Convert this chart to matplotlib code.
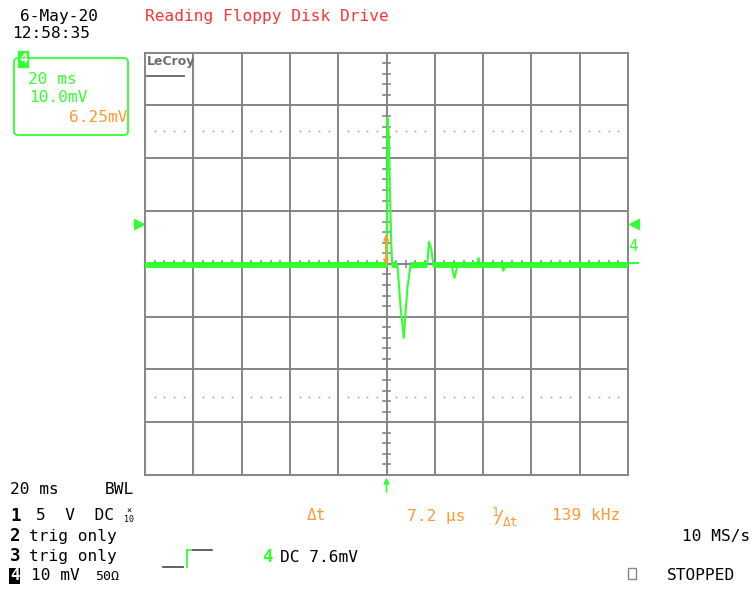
import numpy as np
import matplotlib
matplotlib.use("Agg")
import matplotlib.pyplot as plt
from matplotlib.patches import FancyBboxPatch, Rectangle

# channel 4 trace, time in ms (20 ms/div), volts in mV (10 mV/div)
time_ms = [-100, 0.2, 0.41, 0.95, 1.53, 1.95, 2.36, 4.55, 5.8, 7.16, 7.87, 8.7, 9.94,
           16.85, 17.6, 18.6, 19.46, 26.9, 28.16, 29.4, 37.3, 38.1, 38.9, 47.6, 48.4, 49.3, 100]
ch4_mv = [-0.3, -0.3, 27.6, 24.4, 12.1, 4.0, -0.3, -0.3, -8.1, -14.0, -9.3, -4.4, -0.3,
          -0.3, 4.2, 2.65, -0.3, -0.3, -2.65, -0.3, -0.3, 1.1, -0.3, -0.3, -1.3, -0.3, -0.3]
# stretches where the noisy baseline is visible
noise_start = [-100, 2.36, 9.94, 19.46]
noise_end = [0.2, 4.55, 16.85, 100]
baseline_mv = -0.3
trig_level_mv = 7.6
cursor_lo, cursor_hi = -0.3, 5.6
dotted_mv = [25.2, -25.2]

GREEN = "#33ff33"
ORANGE = "#ff9933"
RED = "#ff3333"
GRID = "#858585"
MONO = "DejaVu Sans Mono"

W, H = 755, 590
fig = plt.figure(figsize=(W / 100, H / 100), dpi=100)
fig.patch.set_facecolor("white")


def px(x, y):
    return x / W, 1 - y / H


def txt(x, y, s, color="black", size=11.6, ha="left", **kw):
    fx, fy = px(x, y)
    fig.text(fx, fy, s, color=color, fontsize=size, ha=ha, va="center",
             family=MONO, **kw)


# graticule axes
l, r, t, b = 145, 628, 52.7, 475
ax = fig.add_axes([l / W, 1 - b / H, (r - l) / W, (b - t) / H])
ax.set_xlim(-100, 100)
ax.set_ylim(-40, 40)
ax.set_xticks([])
ax.set_yticks([])
for s in ax.spines.values():
    s.set_color(GRID)
    s.set_linewidth(1.4)
for xv in np.arange(-80, 100, 20):
    ax.axvline(xv, color=GRID, lw=1.4, zorder=1)
for yv in np.arange(-30, 40, 10):
    ax.axhline(yv, color=GRID, lw=1.4, zorder=1)
# minor ticks on the centre cross
for yv in np.arange(-40, 41, 2):
    ax.plot([-1.6, 1.6], [yv, yv], color=GRID, lw=1.2, zorder=1)
for xv in np.arange(-100, 101, 4):
    ax.plot([xv, xv], [-0.6, 0.6], color=GRID, lw=1.2, zorder=1)
# dotted cursor rows
dots_x = [d * 20 + f * 20 for d in range(-5, 5) for f in (0.2, 0.4, 0.6, 0.8)]
for yv in dotted_mv:
    ax.plot(dots_x, [yv] * len(dots_x), ls="none", marker="s", ms=1.1,
            color="#999999", mew=0, zorder=1)

# trace
ax.hlines([baseline_mv] * len(noise_start), noise_start, noise_end, color=GREEN,
          lw=4.4, zorder=3)
ax.plot(time_ms, ch4_mv, color=GREEN, lw=1.5, zorder=4)

# cursor arrow
ax.annotate("", xy=(-0.2, cursor_hi), xytext=(-0.2, cursor_lo),
            arrowprops=dict(arrowstyle="<|-|>", color=ORANGE, lw=1.4,
                            mutation_scale=7, shrinkA=0, shrinkB=0), zorder=6)

# trigger level markers and ch4 ground marker
ax.plot([-102.5], [trig_level_mv], marker=">", ms=7, color=GREEN, clip_on=False)
ax.plot([102.5], [trig_level_mv], marker="<", ms=7, color=GREEN, clip_on=False)
ax.plot([100.5, 104], [0.2, 0.2], color=GREEN, lw=1.5, clip_on=False)
ax.text(102, 3.2, "4", color=GREEN, fontsize=11.6, family=MONO, ha="center",
        va="center", clip_on=False)
ax.annotate("", xy=(0, -0.006), xytext=(0, -0.04),
            xycoords=("data", "axes fraction"),
            arrowprops=dict(arrowstyle="-|>", color=GREEN, lw=1.2,
                            mutation_scale=8, shrinkA=0, shrinkB=0))

# LeCroy logo
ax.text(-99.2, 38.3, "LeCroy", color="#707070", fontsize=9, fontweight="bold",
        family="DejaVu Sans Condensed", ha="left", va="center")
ax.plot([-99.2, -83.8], [35.6, 35.6], color="#707070", lw=1.4)

# header
txt(20, 16, "6-May-20")
txt(12, 34, "12:58:35")
txt(145, 16, "Reading Floppy Disk Drive", color=RED)

# channel box
bx0, by0 = px(14, 135)
bx1, by1 = px(128, 58)
fig.add_artist(FancyBboxPatch((bx0, by0), bx1 - bx0, by1 - by0,
                              boxstyle="round,pad=0,rounding_size=0.006",
                              transform=fig.transFigure, fill=False,
                              edgecolor=GREEN, lw=1.3))
rx, ry = px(18, 67)
fig.add_artist(Rectangle((rx, ry), 10 / W, 16 / H, transform=fig.transFigure,
                         color=GREEN))
txt(23, 59, "4", color="white", size=10, ha="center", fontweight="bold")
txt(28, 79, "20 ms", color=GREEN)
txt(29, 98, "10.0mV", color=GREEN)
txt(127, 117, "6.25mV", color=ORANGE, ha="right")

# bottom status
txt(10, 490, "20 ms")
txt(105, 490, "BWL")
txt(10, 516, "1", size=12.5, fontweight="bold")
txt(36, 516, "5  V  DC")
txt(129, 511, "\u00d7", size=6, ha="center")
txt(129, 520, "10", size=6, ha="center")
txt(10, 536, "2", size=12.5, fontweight="bold")
txt(29, 536, "trig only")
txt(10, 556, "3", size=12.5, fontweight="bold")
txt(29, 556, "trig only")
txt(10, 576, "4", size=11.5, color="white", fontweight="bold",
    bbox=dict(facecolor="black", edgecolor="none", pad=0.6))
txt(31, 576, "10 mV")
txt(95, 576, "50\u03a9", size=9.5)

# trigger slope symbol
for xs, ys, c in [((163, 183), (567, 567), "#555555"),
                  ((187, 187), (567, 550), GREEN),
                  ((187, 191), (550, 550), GREEN),
                  ((193, 212), (550, 550), "#555555")]:
    fig.add_artist(plt.Line2D([x / W for x in xs], [1 - y / H for y in ys],
                              color=c, lw=1.3, transform=fig.transFigure))
txt(262, 557, "4", color=GREEN, size=12.5, fontweight="bold")
txt(280, 557, "DC 7.6mV")

# cursor readout
txt(307, 516, "\u0394t", color=ORANGE)
txt(407, 516, "7.2 \u03bcs", color=ORANGE)
txt(491, 517, r"$\mathregular{^1\!\!/_{\!\Delta t}}$", color=ORANGE, size=13)
txt(552, 516, "139 kHz", color=ORANGE)

txt(750, 537, "10 MS/s", ha="right")
sx, sy = px(628, 579)
fig.add_artist(Rectangle((sx, sy), 8 / W, 11 / H, transform=fig.transFigure,
                         fill=False, edgecolor="#888888", lw=1))
txt(667, 576, "STOPPED")

fig.savefig("out.png", dpi=100)
